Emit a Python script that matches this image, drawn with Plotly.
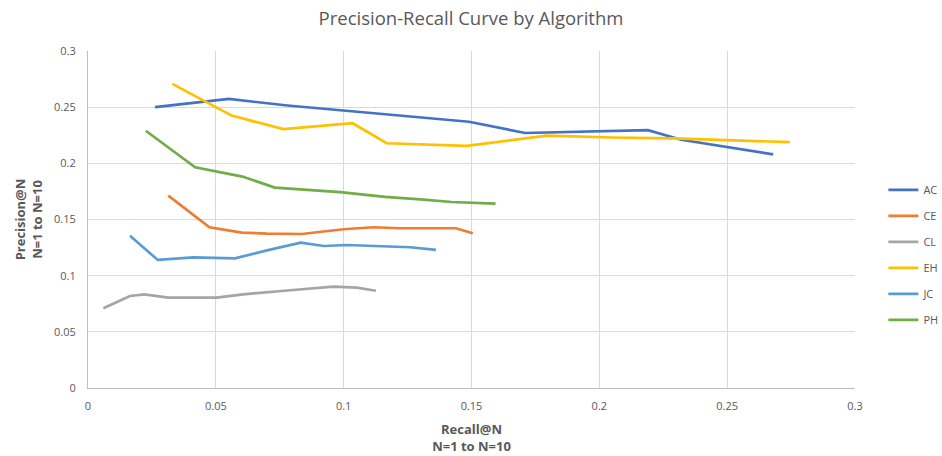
import plotly.graph_objects as go

names = ["AC", "CE", "CL", "EH", "JC", "PH"]
colors = ["#4472C4", "#ED7D31", "#A5A5A5", "#FFC000", "#5B9BD5", "#70AD47"]

ac_x = [0.0262, 0.0551, 0.078, 0.102, 0.125, 0.149, 0.171, 0.219, 0.232, 0.268]
ac_y = [0.250, 0.2573, 0.2515, 0.2465, 0.242, 0.237, 0.227, 0.2295, 0.221, 0.208]
ce_x = [0.0314, 0.0475, 0.0601, 0.070, 0.0836, 0.0999, 0.1116, 0.122, 0.1439, 0.1505]
ce_y = [0.1712, 0.1431, 0.1383, 0.1375, 0.1371, 0.1413, 0.1431, 0.1422, 0.1422, 0.1377]
cl_x = [0.006, 0.0164, 0.022, 0.0314, 0.0503, 0.0607, 0.078, 0.0959, 0.1051, 0.1126]
cl_y = [0.071, 0.0819, 0.0834, 0.0804, 0.0804, 0.0834, 0.0868, 0.0902, 0.0893, 0.0866]
eh_x = [0.033, 0.0562, 0.0764, 0.1035, 0.1168, 0.1481, 0.1794, 0.205, 0.2289, 0.2745]
eh_y = [0.2707, 0.2425, 0.2304, 0.2357, 0.2179, 0.2155, 0.2247, 0.223, 0.2223, 0.2188]
jc_x = [0.0164, 0.0273, 0.0412, 0.0575, 0.070, 0.0832, 0.0923, 0.1012, 0.126, 0.1361]
jc_y = [0.1356, 0.114, 0.1163, 0.1154, 0.1225, 0.1294, 0.1264, 0.1273, 0.1253, 0.1229]
ph_x = [0.0226, 0.0419, 0.0604, 0.0731, 0.0986, 0.1162, 0.130, 0.1422, 0.1594]
ph_y = [0.229, 0.1965, 0.1882, 0.1784, 0.1743, 0.1701, 0.168, 0.1656, 0.1641]

xs = [ac_x, ce_x, cl_x, eh_x, jc_x, ph_x]
ys = [ac_y, ce_y, cl_y, eh_y, jc_y, ph_y]

x_ticks = [0, 0.05, 0.1, 0.15, 0.2, 0.25, 0.3]
x_labels = ["0", "0.05", "0.1", "0.15", "0.2", "0.25", "0.3"]
y_ticks = [0, 0.05, 0.1, 0.15, 0.2, 0.25, 0.3]
y_labels = ["0", "0.05", "0.1", "0.15", "0.2", "0.25", "0.3"]

FONT = "Open Sans"
GREY = "#595959"

fig = go.Figure()
for i, n in enumerate(names):
    fig.add_trace(go.Scatter(
        x=xs[i], y=ys[i], name=n, mode="lines",
        line=dict(color=colors[i], width=2.7),
        legendgroup=n,
    ))

fig.update_layout(
    width=942, height=456,
    margin=dict(l=88, r=87, t=51, b=68, autoexpand=False),
    paper_bgcolor="white", plot_bgcolor="white",
    font=dict(family=FONT, color=GREY, size=11),
    title=dict(text="Precision-Recall Curve by Algorithm", x=0.5, xanchor="center",
               y=0.96, yanchor="middle", font=dict(size=18.5, color=GREY, family=FONT)),
    showlegend=True,
    legend=dict(x=1.037, xanchor="left", y=0.395, yanchor="middle",
                font=dict(size=11, color=GREY), tracegroupgap=7,
                itemwidth=30, bgcolor="rgba(0,0,0,0)"),
    xaxis=dict(range=[0, 0.3], tickvals=x_ticks, ticktext=x_labels, automargin=False,
               showgrid=True, gridcolor="#D9D9D9", gridwidth=1,
               showline=True, linecolor="#BFBFBF", zeroline=False,
               ticks="", ticklabelstandoff=8, tickfont=dict(size=11, color=GREY),
               title=dict(text="<b>Recall@N<br>N=1 to N=10</b>", standoff=12,
                          font=dict(size=13, color=GREY))),
    yaxis=dict(range=[0, 0.3], tickvals=y_ticks, ticktext=y_labels, automargin=False,
               showgrid=True, gridcolor="#D9D9D9", gridwidth=1,
               showline=True, linecolor="#BFBFBF", zeroline=False,
               ticks="", ticklabelstandoff=9, tickfont=dict(size=11, color=GREY),
               title=dict(text="<b>Precision@N<br>N=1 to N=10</b>", standoff=8,
                          font=dict(size=13, color=GREY))),
)

fig.write_html("out.html")
